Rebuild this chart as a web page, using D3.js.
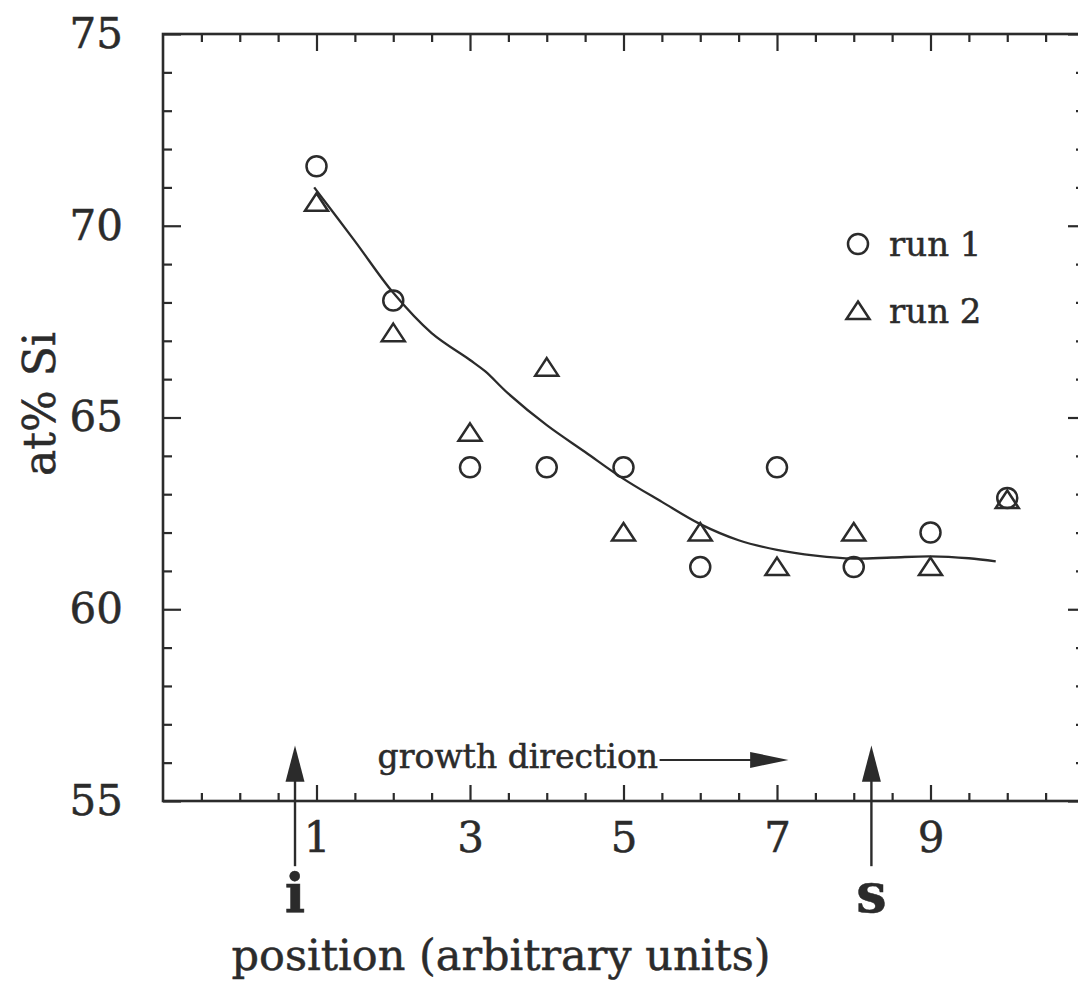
<!DOCTYPE html>
<html>
<head>
<meta charset="utf-8">
<script src="https://cdn.jsdelivr.net/npm/d3@7"></script>
<style>
  html, body { margin: 0; padding: 0; background: #fff; }
  svg { display: block; }
  text { font-family: "DejaVu Serif", "Liberation Serif", serif; fill: #2b2b2b; stroke: #2b2b2b; stroke-width: 0.5px; }
</style>
</head>
<body>
<svg id="chart" width="1078" height="992"></svg>
<script>
// ---- data ----
const positions = [1, 2, 3, 4, 5, 6, 7, 8, 9, 10];
const run1 = [71.55, 68.05, 63.7, 63.7, 63.7, 61.1, 63.7, 61.1, 62.0, 62.9];
const run2 = [70.6, 67.2, 64.6, 66.3, 62.0, 62.0, 61.1, 62.0, 61.1, 62.85];
const fitX = [0.97, 1.5, 2.0, 2.5, 3.0, 3.2, 3.5, 4.0, 4.5, 5.0, 5.5, 6.0, 6.5, 7.0, 7.5, 8.0, 8.5, 9.0, 9.5, 9.85];
const fitY = [71.0, 69.6, 68.25, 67.2, 66.5, 66.2, 65.62, 64.8, 64.1, 63.4, 62.8, 62.22, 61.8, 61.55, 61.4, 61.32, 61.35, 61.38, 61.33, 61.25];
const xMajorTicks = [1, 3, 5, 7, 9];
const yMajorTicks = [55, 60, 65, 70, 75];
const seriesNames = ["run 1", "run 2"];
const markerLabels = ["i", "s"];
const markerPositions = [0.72, 8.23];
const annotationText = "growth direction";
const xTitle = "position (arbitrary units)";
const yTitle = "at% Si";

// ---- layout ----
const ink = "#2b2b2b";
const svg = d3.select("#chart");
const x = d3.scaleLinear().domain([-1, 11]).range([163, 1084]);
const y = d3.scaleLinear().domain([55, 75]).range([801, 34]);

const xMinor = d3.range(-0.5, 11, 0.5).filter(v => !xMajorTicks.includes(v));
const yMinor = d3.range(56, 75, 1).filter(v => !yMajorTicks.includes(v));

function styleAxis(g) {
  g.select(".domain").remove();
  g.selectAll(".tick line").attr("stroke", ink).attr("stroke-width", 2.2);
  g.selectAll("text").attr("fill", ink).style("font-family", '"DejaVu Serif", serif');
}

// bottom
svg.append("g").attr("transform", `translate(0,${y(55)})`)
  .call(d3.axisBottom(x).tickValues(xMinor).tickSize(-8).tickFormat(""))
  .call(styleAxis);
svg.append("g").attr("transform", `translate(0,${y(55)})`)
  .call(d3.axisBottom(x).tickValues(xMajorTicks).tickSize(-16).tickPadding(21).tickFormat(d3.format("d")))
  .call(styleAxis)
  .call(g => g.selectAll("text").style("font-size", "42px"));
// top
svg.append("g").attr("transform", `translate(0,${y(75)})`)
  .call(d3.axisTop(x).tickValues(xMinor).tickSize(-8).tickFormat(""))
  .call(styleAxis);
svg.append("g").attr("transform", `translate(0,${y(75)})`)
  .call(d3.axisTop(x).tickValues(xMajorTicks).tickSize(-17).tickFormat(""))
  .call(styleAxis);
// left
svg.append("g").attr("transform", `translate(${x(-1)},0)`)
  .call(d3.axisLeft(y).tickValues(yMinor).tickSize(-9).tickFormat(""))
  .call(styleAxis);
svg.append("g").attr("transform", `translate(${x(-1)},0)`)
  .call(d3.axisLeft(y).tickValues(yMajorTicks).tickSize(-18).tickPadding(40).tickFormat(d3.format("d")))
  .call(styleAxis)
  .call(g => g.selectAll("text").style("font-size", "42px"));
// right
svg.append("g").attr("transform", `translate(${x(11)},0)`)
  .call(d3.axisRight(y).tickValues(yMinor).tickSize(-8).tickFormat(""))
  .call(styleAxis);
svg.append("g").attr("transform", `translate(${x(11)},0)`)
  .call(d3.axisRight(y).tickValues(yMajorTicks).tickSize(-16).tickFormat(""))
  .call(styleAxis);

// frame
svg.append("rect")
  .attr("x", x(-1)).attr("y", y(75))
  .attr("width", x(11) - x(-1)).attr("height", y(55) - y(75))
  .attr("fill", "none").attr("stroke", ink).attr("stroke-width", 2.6);

// fitted curve
const fit = fitX.map((v, i) => [v, fitY[i]]);
svg.append("path")
  .datum(fit)
  .attr("fill", "none").attr("stroke", ink).attr("stroke-width", 2.3)
  .attr("d", d3.line().x(d => x(d[0])).y(d => y(d[1])).curve(d3.curveCatmullRom.alpha(0.5)));

// markers
const triPath = "M0,-9.5 L11.5,8 L-11.5,8 Z";
const markerStroke = 2.5;
const rCirc = 10;
svg.append("g").selectAll("circle")
  .data(positions.map((p, i) => [p, run1[i]]))
  .join("circle")
  .attr("cx", d => x(d[0])).attr("cy", d => y(d[1])).attr("r", rCirc)
  .attr("fill", "none").attr("stroke", ink).attr("stroke-width", markerStroke);
svg.append("g").selectAll("path")
  .data(positions.map((p, i) => [p, run2[i]]))
  .join("path")
  .attr("transform", d => `translate(${x(d[0])},${y(d[1])})`)
  .attr("d", triPath)
  .attr("fill", "none").attr("stroke", ink).attr("stroke-width", markerStroke)
  .attr("stroke-linejoin", "miter");

// legend
const legX = 858, legY = [244, 311];
svg.append("circle").attr("cx", legX).attr("cy", legY[0]).attr("r", rCirc)
  .attr("fill", "none").attr("stroke", ink).attr("stroke-width", markerStroke);
svg.append("path").attr("transform", `translate(${legX},${legY[1]})`).attr("d", triPath)
  .attr("fill", "none").attr("stroke", ink).attr("stroke-width", markerStroke);
seriesNames.forEach((n, i) => {
  svg.append("text").attr("x", 889).attr("y", legY[i] + 12)
    .style("font-size", "34px").text(n);
});

// interface / surface arrows
markerPositions.forEach((p, i) => {
  const cx = x(p);
  svg.append("line")
    .attr("x1", cx).attr("x2", cx).attr("y1", y(53.3)).attr("y2", y(55.6))
    .attr("stroke", ink).attr("stroke-width", 2.4);
  svg.append("path")
    .attr("d", `M${cx},${y(56.45)} L${cx + 9.5},${y(55.5)} L${cx - 9.5},${y(55.5)} Z`)
    .attr("fill", ink);
  svg.append("text").attr("x", cx).attr("y", 912)
    .attr("text-anchor", "middle")
    .style("font-size", "54px").style("font-weight", "bold")
    .text(markerLabels[i]);
});

// growth direction annotation
svg.append("text").attr("x", x(5.45)).attr("y", y(55.86))
  .attr("text-anchor", "end").style("font-size", "33px").text(annotationText);
svg.append("line")
  .attr("x1", x(5.47)).attr("x2", x(6.7)).attr("y1", y(56.07)).attr("y2", y(56.07))
  .attr("stroke", ink).attr("stroke-width", 2);
svg.append("path")
  .attr("d", `M${x(7.15)},${y(56.07)} L${x(6.65)},${y(56.07) - 8} L${x(6.65)},${y(56.07) + 8} Z`)
  .attr("fill", ink);

// axis titles
svg.append("text").attr("x", 501).attr("y", 970)
  .attr("text-anchor", "middle").style("font-size", "43px").text(xTitle);
svg.append("text")
  .attr("transform", `translate(55,404) rotate(-90)`)
  .attr("text-anchor", "middle").style("font-size", "44px").text(yTitle);
</script>
</body>
</html>
